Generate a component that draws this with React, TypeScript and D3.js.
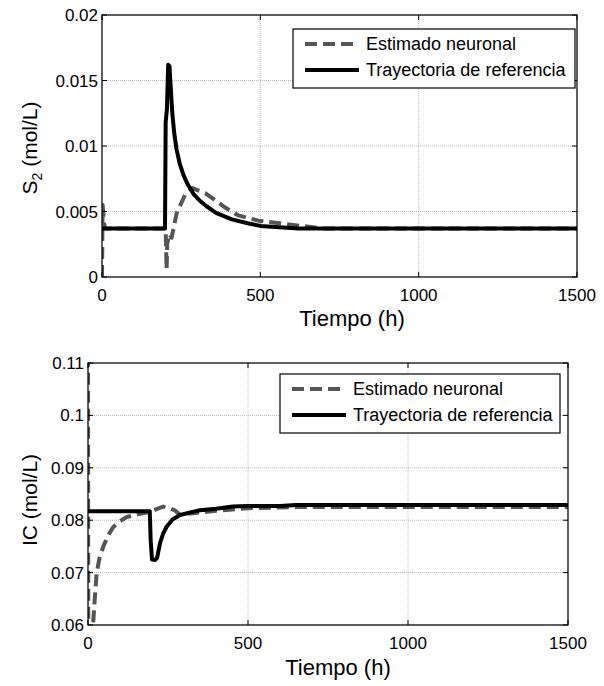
import * as d3 from "d3";

// S2 panel data (t in h, value in mol/L)
const s2RefT = [0, 199, 201, 205, 209, 213, 217, 222, 228, 235, 245, 257, 270, 290, 310, 330, 360, 410, 460, 500, 560, 620, 680, 1500];
const s2RefV = [0.0037, 0.0037, 0.0118, 0.0128, 0.0162, 0.0161, 0.0145, 0.0125, 0.011, 0.0098, 0.0087, 0.0078, 0.0071, 0.0063, 0.0058, 0.0054, 0.0049, 0.0044, 0.0041, 0.0039, 0.0038, 0.0037, 0.0037, 0.0037];
const s2EstT = [0, 2, 6, 10, 201, 204, 206, 212, 220, 236, 263, 284, 326, 389, 431, 494, 560, 630, 700, 1500];
const s2EstV = [0, 0.0055, 0.0042, 0.0037, 0.0037, 0.0006, 0.0025, 0.0033, 0.003, 0.0049, 0.0063, 0.0068, 0.0064, 0.0053, 0.0047, 0.0043, 0.0041, 0.0039, 0.0037, 0.0037];

// IC panel data
const icRefT = [0, 193, 196, 200, 210, 216, 225, 235, 246, 265, 288, 320, 350, 400, 453, 500, 600, 650, 1500];
const icRefV = [0.0817, 0.0817, 0.076, 0.0725, 0.0724, 0.0728, 0.0756, 0.0775, 0.0788, 0.0802, 0.081, 0.0815, 0.0819, 0.0822, 0.0826, 0.0827, 0.0827, 0.0829, 0.0829];
const icEstT = [0, 1, 14, 16, 20, 27, 36, 48, 62, 79, 100, 121, 160, 194, 210, 235, 255, 271, 288, 320, 400, 500, 650, 1500];
const icEstV = [0.115, 0.05, 0.055, 0.0602, 0.064, 0.0699, 0.0728, 0.075, 0.077, 0.0787, 0.0798, 0.0806, 0.0812, 0.0816, 0.082, 0.0826, 0.0823, 0.0819, 0.081, 0.0813, 0.0818, 0.0823, 0.0825, 0.0825];

const xTicks = [0, 500, 1000, 1500];
const s2Ticks = [0, 0.005, 0.01, 0.015, 0.02];
const icTicks = [0.06, 0.07, 0.08, 0.09, 0.1, 0.11];
const legendLabels = ["Estimado neuronal", "Trayectoria de referencia"];

const font = "'Liberation Sans', Arial, sans-serif";

type Box = { left: number; right: number; top: number; bottom: number };

function Panel({ id, box, yDomain, yTicks, yFmt, est, ref, yLabel, xLabelX, xLabelY, yLabelX, yLabelY, legend }: any) {
  const x = d3.scaleLinear().domain([0, 1500]).range([box.left, box.right]);
  const y = d3.scaleLinear().domain(yDomain).range([box.bottom, box.top]);
  const line = d3.line<[number, number]>().x(d => x(d[0])).y(d => y(d[1]));
  const estPts: [number, number][] = est[0].map((t: number, i: number) => [t, est[1][i]]);
  const refPts: [number, number][] = ref[0].map((t: number, i: number) => [t, ref[1][i]]);
  const tk = 5;
  return (
    <g>
      <defs>
        <clipPath id={id}>
          <rect x={box.left} y={box.top} width={box.right - box.left} height={box.bottom - box.top} />
        </clipPath>
      </defs>
      {/* grid */}
      {xTicks.map(t => (
        <line key={"gx" + t} x1={x(t)} x2={x(t)} y1={box.top} y2={box.bottom} stroke="#a8a8a8" strokeWidth={0.8} strokeDasharray="1,1" />
      ))}
      {yTicks.map((t: number) => (
        <line key={"gy" + t} x1={box.left} x2={box.right} y1={y(t)} y2={y(t)} stroke="#a8a8a8" strokeWidth={0.8} strokeDasharray="1,1" />
      ))}
      <g clipPath={`url(#${id})`}>
        <path d={line(estPts) || ""} fill="none" stroke="#555555" strokeWidth={4} strokeDasharray="12,6" strokeLinejoin="round" />
        <path d={line(refPts) || ""} fill="none" stroke="#000" strokeWidth={4} strokeLinejoin="round" />
      </g>
      {/* frame and ticks */}
      <rect x={box.left} y={box.top} width={box.right - box.left} height={box.bottom - box.top} fill="none" stroke="#000" strokeWidth={1.2} />
      {xTicks.map(t => (
        <g key={"tx" + t}>
          <line x1={x(t)} x2={x(t)} y1={box.bottom} y2={box.bottom - tk} stroke="#000" />
          <line x1={x(t)} x2={x(t)} y1={box.top} y2={box.top + tk} stroke="#000" />
          <text x={x(t)} y={box.bottom + 24} textAnchor="middle" fontSize={17} fontFamily={font}>{t}</text>
        </g>
      ))}
      {yTicks.map((t: number) => (
        <g key={"ty" + t}>
          <line x1={box.left} x2={box.left + tk} y1={y(t)} y2={y(t)} stroke="#000" />
          <line x1={box.right} x2={box.right - tk} y1={y(t)} y2={y(t)} stroke="#000" />
          <text x={box.left - 4} y={y(t) + 6} textAnchor="end" fontSize={17} fontFamily={font}>{yFmt(t)}</text>
        </g>
      ))}
      <text x={xLabelX} y={xLabelY} textAnchor="middle" fontSize={22} fontFamily={font}>Tiempo (h)</text>
      <text transform={`translate(${yLabelX},${yLabelY}) rotate(-90)`} textAnchor="middle" fontSize={21} fontFamily={font}>{yLabel}</text>
      {/* legend */}
      <rect x={legend.x} y={legend.y} width={legend.w} height={legend.h} fill="#fff" stroke="#000" strokeWidth={1.2} />
      <line x1={legend.x + 12} x2={legend.x + 66} y1={legend.y + 15} y2={legend.y + 15} stroke="#555555" strokeWidth={4} strokeDasharray="12,6" />
      <line x1={legend.x + 12} x2={legend.x + 66} y1={legend.y + 41} y2={legend.y + 41} stroke="#000" strokeWidth={4} />
      {legendLabels.map((l, i) => (
        <text key={l} x={legend.x + 73} y={legend.y + 21 + i * 26} fontSize={18} fontFamily={font}>{l}</text>
      ))}
    </g>
  );
}

export default function App() {
  const top: Box = { left: 102, right: 577, top: 15, bottom: 277 };
  const bot: Box = { left: 88, right: 568, top: 363, bottom: 625 };
  return (
    <svg width={604} height={686} style={{ position: "absolute", left: 0, top: 0, background: "#fff" }}>
      <rect width={604} height={686} fill="#fff" />
      <Panel
        id="clipTop"
        box={top}
        yDomain={[0, 0.02]}
        yTicks={s2Ticks}
        yFmt={(v: number) => (v === 0 ? "0" : String(+v.toFixed(3)))}
        est={[s2EstT, s2EstV]}
        ref={[s2RefT, s2RefV]}
        yLabel={<><tspan>S</tspan><tspan dy={5} fontSize={14}>2</tspan><tspan dy={-5}> (mol/L)</tspan></>}
        xLabelX={352}
        xLabelY={326}
        yLabelX={37}
        yLabelY={148}
        legend={{ x: 293, y: 29, w: 282, h: 59 }}
      />
      <Panel
        id="clipBot"
        box={bot}
        yDomain={[0.06, 0.11]}
        yTicks={icTicks}
        yFmt={(v: number) => String(+v.toFixed(2))}
        est={[icEstT, icEstV]}
        ref={[icRefT, icRefV]}
        yLabel="IC (mol/L)"
        xLabelX={338}
        xLabelY={675}
        yLabelX={37}
        yLabelY={500}
        legend={{ x: 280, y: 374, w: 280, h: 59 }}
      />
    </svg>
  );
}
